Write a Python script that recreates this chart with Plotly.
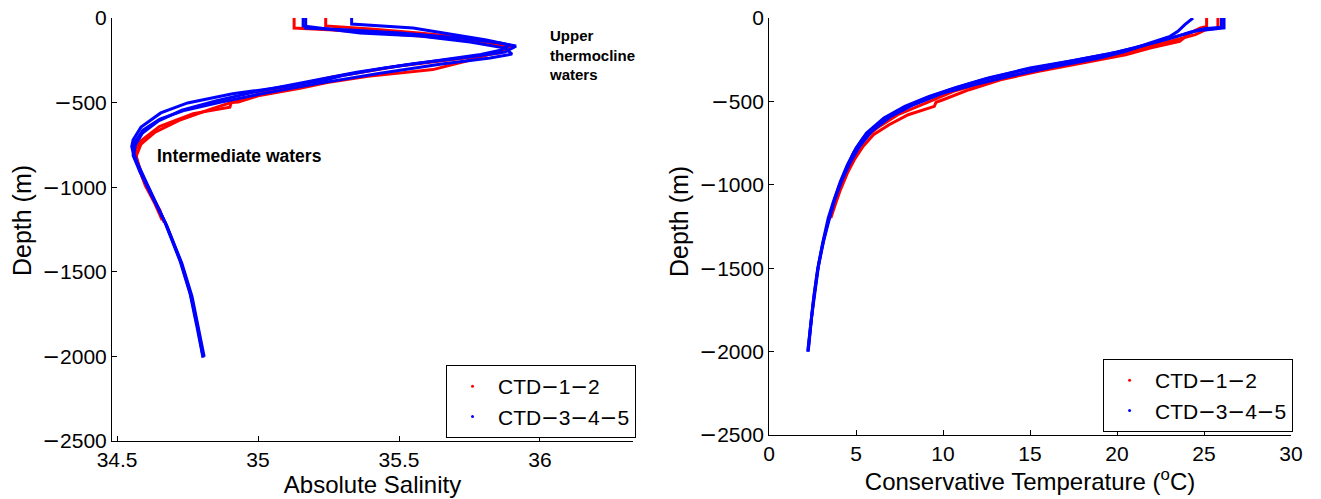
import plotly.graph_objects as go

# ---------------- Salinity profiles (Absolute Salinity, depth m) ----------------
SA_CTD1 = [35.128, 35.128, 35.25, 35.40, 35.60, 35.78, 35.87, 35.88, 35.82, 35.75, 35.62, 35.39, 35.245,
           35.149, 35.0, 34.93, 34.905, 34.90, 34.77, 34.65, 34.585, 34.565, 34.57, 34.59, 34.606, 34.635,
           34.652, 34.667]
Z_SA_CTD1 = [0, -59, -70, -85, -110, -140, -165, -190, -215, -250, -305, -345, -382,
             -416, -460, -497, -500, -527, -565, -642, -725, -780, -830, -940, -1001, -1090,
             -1137, -1208]

SA_CTD2 = [35.240, 35.240, 35.40, 35.58, 35.76, 35.86, 35.90, 35.86, 35.72, 35.50, 35.26, 35.04, 34.94,
           34.83, 34.72, 34.635, 34.585, 34.567, 34.58, 34.60, 34.635, 34.66]
Z_SA_CTD2 = [0, -47, -65, -90, -120, -150, -175, -205, -240, -284, -350, -430, -480,
             -540, -605, -675, -745, -820, -900, -990, -1100, -1195]

SA_CTD3 = [35.169, 35.169, 35.326, 35.504, 35.716, 35.858, 35.915, 35.876, 35.75, 35.55, 35.35, 35.15,
           34.98, 34.85, 34.73, 34.645, 34.59, 34.565, 34.56, 34.57, 34.617, 34.670, 34.723, 34.759,
           34.784, 34.805]
Z_SA_CTD3 = [0, -59, -71, -89, -118, -148, -166, -201, -230, -270, -320, -385,
             -440, -490, -545, -610, -680, -750, -800, -850, -1019, -1208, -1434, -1629,
             -1830, -2008]

SA_CTD4 = [35.332, 35.332, 35.55, 35.81, 35.894, 35.86, 35.79, 35.64, 35.45, 35.30, 35.245, 35.10, 34.91,
           34.75, 34.655, 34.585, 34.557, 34.552, 34.557, 34.566, 34.59, 34.617, 34.674, 34.727, 34.762,
           34.787, 34.805]
Z_SA_CTD4 = [0, -36, -59, -130, -160, -190, -215, -250, -295, -340, -364, -405, -448,
             -502, -561, -645, -720, -760, -796, -840, -930, -1031, -1220, -1445, -1641,
             -1836, -2002]

SA_CTD5 = [35.160, 35.160, 35.362, 35.574, 35.752, 35.876, 35.901, 35.823, 35.645, 35.433, 35.220, 35.007,
           34.865, 34.741, 34.652, 34.592, 34.560, 34.557, 34.582, 34.624, 34.677, 34.730, 34.766,
           34.791, 34.809]
Z_SA_CTD5 = [0, -47, -89, -107, -142, -178, -213, -237, -273, -326, -385, -450,
             -498, -545, -598, -663, -740, -812, -912, -1049, -1232, -1451, -1647,
             -1848, -2002]

# ---------------- Temperature profiles (Conservative Temperature, depth m) ----------------
CT_CTD1 = [25.15, 25.15, 24.8, 24.2, 23.6, 21.9, 20.5, 18.0, 15.5, 13.3, 11.5, 10.0, 9.6, 9.5, 8.0,
           6.9, 6.0, 5.4, 4.9, 4.5, 4.1, 3.8, 3.55]
Z_CT_CTD1 = [0, -50, -60, -90, -140, -180, -220, -270, -320, -370, -430, -490, -505, -530, -580,
             -640, -700, -770, -850, -930, -1030, -1120, -1200]

CT_CTD2 = [25.8, 25.8, 25.1, 24.5, 23.4, 22.0, 20.3, 17.8, 15.0, 12.6, 10.6, 9.0, 7.4, 6.2, 5.3,
           4.8, 4.4, 4.0, 3.7, 3.45]
Z_CT_CTD2 = [0, -60, -70, -100, -130, -165, -210, -260, -320, -380, -440, -510, -580, -660, -740,
             -820, -920, -1030, -1120, -1200]

CT_CTD3 = [24.37, 23.9, 23.5, 23.05, 21.9, 20.5, 19.0, 16.5, 14.0, 11.8, 10.0, 8.3, 7.0, 5.9, 5.2,
           4.7, 4.2, 3.8, 3.5, 3.15, 2.85, 2.65, 2.45, 2.25]
Z_CT_CTD3 = [0, -40, -80, -110, -150, -200, -240, -290, -345, -400, -450, -520, -590, -680, -770,
             -860, -970, -1080, -1190, -1330, -1480, -1620, -1790, -2000]

CT_CTD4 = [26.15, 26.15, 25.2, 24.6, 23.8, 22.8, 21.5, 20.0, 17.5, 15.0, 12.6, 10.8, 9.2, 7.8, 6.6,
           5.6, 5.0, 4.5, 4.1, 3.7, 3.4, 3.1, 2.8, 2.6, 2.42, 2.22]
Z_CT_CTD4 = [0, -60, -70, -75, -100, -130, -165, -205, -255, -300, -360, -415, -470, -530, -600,
             -690, -780, -880, -980, -1100, -1200, -1340, -1500, -1650, -1810, -2000]

CT_CTD5 = [26.0, 26.0, 25.0, 24.2, 23.3, 22.2, 21.0, 19.5, 17.0, 14.5, 12.3, 10.4, 8.8, 7.4, 6.3,
           5.4, 4.9, 4.45, 4.05, 3.7, 3.4, 3.05, 2.78, 2.55, 2.38, 2.25]
Z_CT_CTD5 = [0, -55, -65, -85, -115, -145, -180, -215, -265, -315, -370, -430, -490, -560, -630,
             -720, -800, -900, -1000, -1110, -1220, -1370, -1520, -1690, -1850, -1990]

MINUS = '<span style="font-family:DejaVu Sans">\u2212</span>'
SERIES_NAMES = ["CTD" + MINUS + "1" + MINUS + "2", "CTD" + MINUS + "3" + MINUS + "4" + MINUS + "5"]
SERIES_COLORS = ["#ff0000", "#0000ff"]

SA_TICKS = [34.5, 35, 35.5, 36]
SA_TICKTEXT = ["34.5", "35", "35.5", "36"]
CT_TICKS = [0, 5, 10, 15, 20, 25, 30]
DEPTH_TICKS = [0, -500, -1000, -1500, -2000, -2500]
DEPTH_TICKTEXT = ["0", MINUS + "500", MINUS + "1000", MINUS + "1500", MINUS + "2000", MINUS + "2500"]
DEPTH_TITLE = "Depth (m)"

FONT = "Liberation Sans, Arial, Helvetica, sans-serif"

fig = go.Figure()

red_sa = [(SA_CTD1, Z_SA_CTD1), (SA_CTD2, Z_SA_CTD2)]
blue_sa = [(SA_CTD3, Z_SA_CTD3), (SA_CTD4, Z_SA_CTD4), (SA_CTD5, Z_SA_CTD5)]
red_ct = [(CT_CTD1, Z_CT_CTD1), (CT_CTD2, Z_CT_CTD2)]
blue_ct = [(CT_CTD3, Z_CT_CTD3), (CT_CTD4, Z_CT_CTD4), (CT_CTD5, Z_CT_CTD5)]

for group, color in [(red_sa, SERIES_COLORS[0]), (blue_sa, SERIES_COLORS[1])]:
    for xs, zs in group:
        fig.add_trace(go.Scatter(x=xs, y=zs, mode="lines", line=dict(color=color, width=3),
                                 showlegend=False, xaxis="x", yaxis="y"))
for group, color in [(red_ct, SERIES_COLORS[0]), (blue_ct, SERIES_COLORS[1])]:
    for xs, zs in group:
        fig.add_trace(go.Scatter(x=xs, y=zs, mode="lines", line=dict(color=color, width=3),
                                 showlegend=False, xaxis="x2", yaxis="y2"))

# legend entries
for name, color in zip(SERIES_NAMES, SERIES_COLORS):
    fig.add_trace(go.Scatter(x=[None], y=[None], mode="markers", name=name,
                             marker=dict(color=color, size=3), xaxis="x", yaxis="y", legend="legend"))
for name, color in zip(SERIES_NAMES, SERIES_COLORS):
    fig.add_trace(go.Scatter(x=[None], y=[None], mode="markers", name=name,
                             marker=dict(color=color, size=3), xaxis="x2", yaxis="y2", legend="legend2"))

axis_common = dict(showline=True, linecolor="black", linewidth=1, ticks="inside", ticklen=5,
                   tickcolor="black", showgrid=False, zeroline=False, mirror=False, automargin=False,
                   ticklabeloverflow="allow",
                   tickfont=dict(family=FONT, size=21, color="black"))

legend_common = dict(xanchor="left", yanchor="bottom", bgcolor="white", bordercolor="black",
                     borderwidth=1, font=dict(family=FONT, size=21, color="black"),
                     tracegroupgap=0, itemwidth=41)

title_font = dict(family=FONT, size=25, color="black")

fig.update_layout(
    width=1321, height=499,
    margin=dict(l=112, r=30, t=18, b=58),
    paper_bgcolor="white", plot_bgcolor="white",
    font=dict(family=FONT, color="black"),
    xaxis=dict(domain=[0, 0.4419], range=[34.482, 36.33], tickvals=SA_TICKS, ticktext=SA_TICKTEXT,
               title=dict(text="Absolute Salinity", font=dict(size=24, family=FONT), standoff=0),
               anchor="y", **axis_common),
    yaxis=dict(domain=[0, 1], range=[-2500, 0], tickvals=DEPTH_TICKS, ticktext=DEPTH_TICKTEXT,
               anchor="x", **axis_common),
    xaxis2=dict(domain=[0.5573, 1], range=[0, 30], tickvals=CT_TICKS,
                title=dict(text="Conservative Temperature (<sup>o</sup>C)", font=dict(size=24, family=FONT),
                           standoff=0),
                anchor="y2", **axis_common),
    yaxis2=dict(domain=[0.0142, 1], range=[-2500, 0], tickvals=DEPTH_TICKS, ticktext=DEPTH_TICKTEXT,
                anchor="x2", **axis_common),
    legend=dict(x=0.2833, y=0.0071, **legend_common),
    legend2=dict(x=0.8406, y=0.0213, **legend_common),
    annotations=[
        # y-axis titles
        dict(x=-0.0763, y=0.52, xref="paper", yref="paper", text=DEPTH_TITLE, textangle=-90,
             showarrow=False, xanchor="center", yanchor="middle", font=title_font),
        dict(x=0.4809, y=0.52, xref="paper", yref="paper", text=DEPTH_TITLE, textangle=-90,
             showarrow=False, xanchor="center", yanchor="middle", font=title_font),
        # labels inside the salinity panel
        dict(x=34.635, y=-814, xref="x", yref="y", text="<b>Intermediate waters</b>", showarrow=False,
             xanchor="left", yanchor="middle", font=dict(family=FONT, size=17.5, color="black")),
        dict(x=36.024, y=-40, xref="x", yref="y", text="<b>Upper<br>thermocline<br>waters</b>",
             showarrow=False, xanchor="left", yanchor="top", align="left",
             font=dict(family=FONT, size=15, color="black")),
    ],
)

# remove the default 8px page margin so the figure fills the window exactly
fig.write_html("out.html", post_script="document.body.style.margin='0';",
               config={"displayModeBar": False})
